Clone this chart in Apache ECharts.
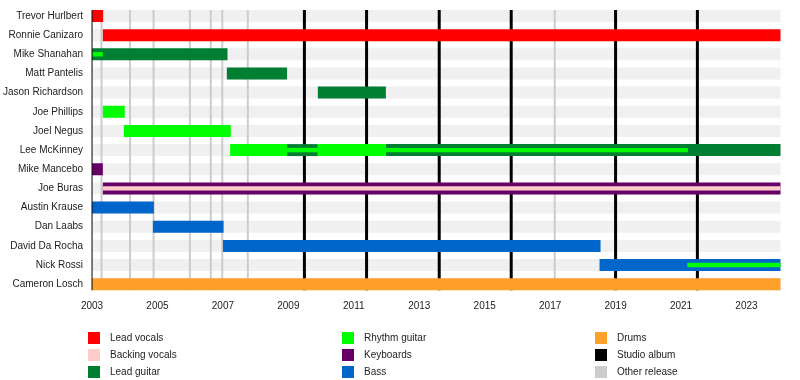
<!DOCTYPE html>
<html>
<head>
<meta charset="utf-8">
<script src="https://cdn.jsdelivr.net/npm/echarts@6/dist/echarts.min.js"></script>
<style>
html,body{margin:0;padding:0;background:#fff;}
#chart{width:800px;height:380px;}
</style>
</head>
<body>
<div id="chart"></div>
<script>
const categories = ['Trevor Hurlbert','Ronnie Canizaro','Mike Shanahan','Matt Pantelis','Jason Richardson','Joe Phillips','Joel Negus','Lee McKinney','Mike Mancebo','Joe Buras','Austin Krause','Dan Laabs','David Da Rocha','Nick Rossi','Cameron Losch'];
const startYear = 2003;
const endYear = 2024.04;

const leadVocals = [['Trevor Hurlbert',2003,2003.34],['Ronnie Canizaro',2003.33,2024.04]];
const backingVocalsStripes = [['Joe Buras',2003.33,2024.04]];
const leadGuitar = [['Mike Shanahan',2003,2007.14],['Matt Pantelis',2007.12,2008.96],['Jason Richardson',2009.9,2011.98],['Lee McKinney',2008.96,2009.9],['Lee McKinney',2011.98,2024.04]];
const rhythmGuitar = [['Joe Phillips',2003.33,2004.0],['Joel Negus',2003.97,2007.24],['Lee McKinney',2007.22,2008.96],['Lee McKinney',2009.9,2011.98]];
const rhythmGuitarStripes = [['Mike Shanahan',2003,2003.33],['Lee McKinney',2008.96,2009.9],['Lee McKinney',2011.98,2021.21],['Nick Rossi',2021.19,2024.04]];
const keyboards = [['Mike Mancebo',2003,2003.33],['Joe Buras',2003.33,2024.04]];
const bass = [['Austin Krause',2003,2004.89],['Dan Laabs',2004.86,2007.02],['David Da Rocha',2007.0,2018.54],['Nick Rossi',2018.51,2024.04]];
const drums = [['Cameron Losch',2003,2024.04]];
const studioAlbums = [2009.49, 2011.39, 2013.61, 2015.81, 2019.0, 2021.5];
const otherReleases = [2003.29, 2004.16, 2004.88, 2005.99, 2006.63, 2006.98, 2007.76, 2017.14];

const colors = {
  'Lead vocals':'#ff0000','Backing vocals':'#ffcccc','Lead guitar':'#007f33','Rhythm guitar':'#00ff00',
  'Keyboards':'#660066','Bass':'#0066cc','Drums':'#ffa02a','Studio album':'#000000','Other release':'#cccccc'
};
const BAR = 0.626, STRIPE = 0.23;
const FONT = "'Liberation Sans', Arial, sans-serif";

function barRender(ratio){
  return function(params, api){
    const c = api.value(0);
    const p0 = api.coord([api.value(1), c]);
    const p1 = api.coord([api.value(2), c]);
    const h = api.size([0,1])[1] * ratio;
    return {type:'rect', shape:{x:p0[0], y:p0[1]-h/2, width:p1[0]-p0[0], height:h},
      style:{fill: api.visual('color')}};
  };
}
function barSeries(name, data, ratio, z){
  return {type:'custom', name:name, data:data, encode:{x:[1,2], y:0}, z:z,
    itemStyle:{color:colors[name]}, renderItem:barRender(ratio), silent:true};
}
function lineRender(width){
  return function(params, api){
    const v = api.value(0);
    const h = api.size([0,1])[1] * BAR;
    const top = api.coord([v, 0]);
    const bot = api.coord([v, categories.length-1]);
    return {type:'line', shape:{x1:top[0], y1:top[1]-h/2, x2:bot[0], y2:bot[1]+h/2},
      style:{stroke: api.visual('color'), lineWidth: width}};
  };
}

const bgStripes = {type:'custom', name:'bg', data:categories.map(c=>[c]), encode:{y:0}, z:1, silent:true,
  renderItem:function(params, api){
    const cs = params.coordSys;
    const p = api.coord([startYear, api.value(0)]);
    const h = api.size([0,1])[1] * BAR;
    return {type:'rect', shape:{x:cs.x, y:p[1]-h/2, width:cs.width, height:h}, style:{fill:'#f0f0f0'}};
  }};
const leftLine = {type:'custom', name:'leftline', data:[[startYear]], encode:{x:0}, z:6, silent:true,
  renderItem:function(params, api){
    const h = api.size([0,1])[1] * BAR;
    const top = api.coord([startYear, 0]);
    const bot = api.coord([startYear, categories.length-1]);
    return {type:'line', shape:{x1:top[0], y1:top[1]-h/2, x2:bot[0], y2:bot[1]+h/2}, style:{stroke:'#000', lineWidth:1}};
  }};

const option = {
  animation:false,
  grid:{left:90.5, right:19.5, top:6.4, height:287.4},
  xAxis:{type:'value', min:startYear, max:endYear, interval:1, offset:-3.8,
    axisLine:{lineStyle:{color:'#000', width:1}},
    axisTick:{length:4, lineStyle:{color:'#000'}},
    splitLine:{show:false},
    axisLabel:{fontSize:10, color:'#222', fontFamily:FONT, margin:11,
      formatter:function(v){ return (Number.isInteger(v) && v % 2 === 1) ? String(v) : ''; }}},
  yAxis:{type:'category', data:categories, inverse:true,
    axisLine:{show:false}, axisTick:{show:false}, splitLine:{show:false},
    axisLabel:{fontSize:10, color:'#222', fontFamily:FONT, margin:9}},
  legend:[
    {data:['Lead vocals','Backing vocals','Lead guitar'], left:88, top:332},
    {data:['Rhythm guitar','Keyboards','Bass'], left:342, top:332},
    {data:['Drums','Studio album','Other release'], left:595, top:332}
  ].map(l=>Object.assign(l,{orient:'vertical', padding:0, itemWidth:12, itemHeight:12, itemGap:5,
    icon:'rect', selectedMode:false, textStyle:{fontSize:10, color:'#222', fontFamily:FONT, padding:[0,0,0,5]}})),
  series:[
    bgStripes,
    {type:'custom', name:'Other release', data:otherReleases.map(v=>[v]), encode:{x:0}, z:2, silent:true,
      itemStyle:{color:colors['Other release']}, renderItem:lineRender(2)},
    {type:'custom', name:'Studio album', data:studioAlbums.map(v=>[v]), encode:{x:0}, z:3, silent:true,
      itemStyle:{color:colors['Studio album']}, renderItem:lineRender(3)},
    barSeries('Lead vocals', leadVocals, BAR, 4),
    barSeries('Lead guitar', leadGuitar, BAR, 4),
    barSeries('Rhythm guitar', rhythmGuitar, BAR, 4),
    barSeries('Keyboards', keyboards, BAR, 4),
    barSeries('Bass', bass, BAR, 4),
    barSeries('Drums', drums, BAR, 4),
    barSeries('Backing vocals', backingVocalsStripes, STRIPE, 5),
    barSeries('Rhythm guitar', rhythmGuitarStripes, STRIPE, 5),
    leftLine
  ]
};
const chart = echarts.init(document.getElementById('chart'), null, {renderer:'canvas'});
chart.setOption(option);
</script>
</body>
</html>
